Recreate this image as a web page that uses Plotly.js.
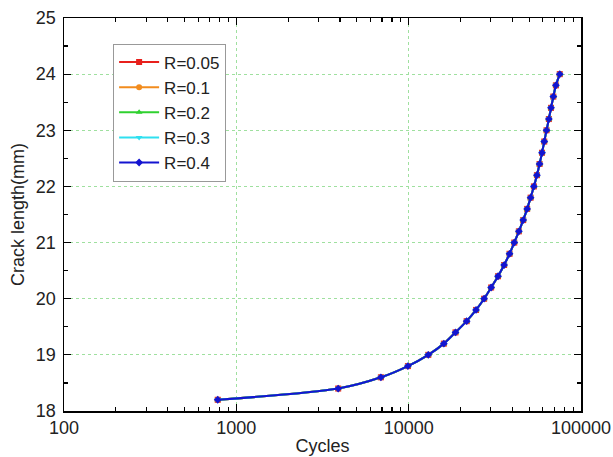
<!DOCTYPE html>
<html>
<head>
<meta charset="utf-8">
<script src="https://cdn.plot.ly/plotly-3.0.1.min.js"></script>
<style>html,body{margin:0;padding:0;background:#fff;}#chart{width:613px;height:457px;}</style>
</head>
<body>
<div id="chart"></div>
<script>
// Crack length (mm)
const crackLength = [18.2,18.4,18.6,18.8,19.0,19.2,19.4,19.6,19.8,20.0,20.2,20.4,20.6,20.8,21.0,21.2,21.4,21.6,21.8,22.0,22.2,22.4,22.6,22.8,23.0,23.2,23.4,23.6,23.8,24.0];
// Cycles for each stress ratio (curves overlap in the figure)
const cyclesR005 = [780,3900,6900,9900,13000,16000,18700,21700,24600,27400,30100,33000,35800,38500,41000,43600,46200,48700,51000,53300,55500,57500,59400,61200,63100,65100,67000,69100,71500,75300];
const cyclesR01  = [780,3900,6900,9900,13000,16000,18700,21700,24600,27400,30100,33000,35800,38500,41000,43600,46200,48700,51000,53300,55500,57500,59400,61200,63100,65100,67000,69100,71500,75300];
const cyclesR02  = [780,3900,6900,9900,13000,16000,18700,21700,24600,27400,30100,33000,35800,38500,41000,43600,46200,48700,51000,53300,55500,57500,59400,61200,63100,65100,67000,69100,71500,75300];
const cyclesR03  = [780,3900,6900,9900,13000,16000,18700,21700,24600,27400,30100,33000,35800,38500,41000,43600,46200,48700,51000,53300,55500,57500,59400,61200,63100,65100,67000,69100,71500,75300];
const cyclesR04  = [780,3900,6900,9900,13000,16000,18700,21700,24600,27400,30100,33000,35800,38500,41000,43600,46200,48700,51000,53300,55500,57500,59400,61200,63100,65100,67000,69100,71500,75300];

const seriesNames = ['R=0.05','R=0.1','R=0.2','R=0.3','R=0.4'];
const seriesX = [cyclesR005, cyclesR01, cyclesR02, cyclesR03, cyclesR04];
const seriesColors = ['#e8201c','#f28c1e','#2fd12f','#2fe0f0','#1414d0'];
const seriesSymbols = ['square','circle','triangle-up','triangle-down','diamond'];

const xMajorTicks = [100,1000,10000,100000];
const xTickLabels = ['100','1000','10000','100000'];
const xMinorTicks = [200,300,400,500,600,700,800,900,2000,3000,4000,5000,6000,7000,8000,9000,20000,30000,40000,50000,60000,70000,80000,90000];

const traces = seriesNames.map((n,i)=>({
  x: seriesX[i], y: crackLength, name: n, type:'scatter', mode:'lines+markers',
  line:{color:seriesColors[i], width:2, shape:'spline', smoothing:0.8},
  marker:{color:seriesColors[i], symbol:seriesSymbols[i], size:6}
}));

const fam = 'Liberation Sans, Arial, sans-serif';
const tickFont = {family:fam, size:18, color:'#222'};
const titleFont = {family:fam, size:18, color:'#222'};
const layout = {
  width:613, height:457,
  margin:{l:64, r:32, t:18, b:46},
  paper_bgcolor:'#fff', plot_bgcolor:'#fff',
  showlegend:true,
  legend:{x:0.095, y:0.935, xanchor:'left', yanchor:'top', bgcolor:'#fff',
    bordercolor:'#999', borderwidth:1, font:{family:fam, size:17, color:'#222'},
    tracegroupgap:0, itemwidth:40},
  xaxis:{type:'log', range:[2,5], tickvals:xMajorTicks, ticktext:xTickLabels,
    ticks:'inside', ticklen:7, tickwidth:1.2, tickcolor:'#000',
    showline:true, linecolor:'#000', linewidth:1.5, mirror:'ticks',
    showgrid:true, gridcolor:'#9fe09f', griddash:'dot', gridwidth:1,
    zeroline:false, tickfont:tickFont,
    minor:{tickvals:xMinorTicks, ticks:'inside', ticklen:4, tickcolor:'#000', showgrid:false},
    title:{text:'Cycles', font:titleFont, standoff:2}},
  yaxis:{range:[18,25], dtick:1, tick0:18,
    ticks:'inside', ticklen:7, tickwidth:1.2, tickcolor:'#000',
    showline:true, linecolor:'#000', linewidth:1.5, mirror:'ticks',
    showgrid:true, gridcolor:'#9fe09f', griddash:'dot', gridwidth:1,
    zeroline:false, tickfont:tickFont, ticklabelstandoff:3,
    minor:{dtick:0.5, ticks:'inside', ticklen:4, tickcolor:'#000', showgrid:false},
    title:{text:'Crack length(mm)', font:titleFont, standoff:6}}
};
Plotly.newPlot('chart', traces, layout, {displayModeBar:false, staticPlot:true});
</script>
</body>
</html>
